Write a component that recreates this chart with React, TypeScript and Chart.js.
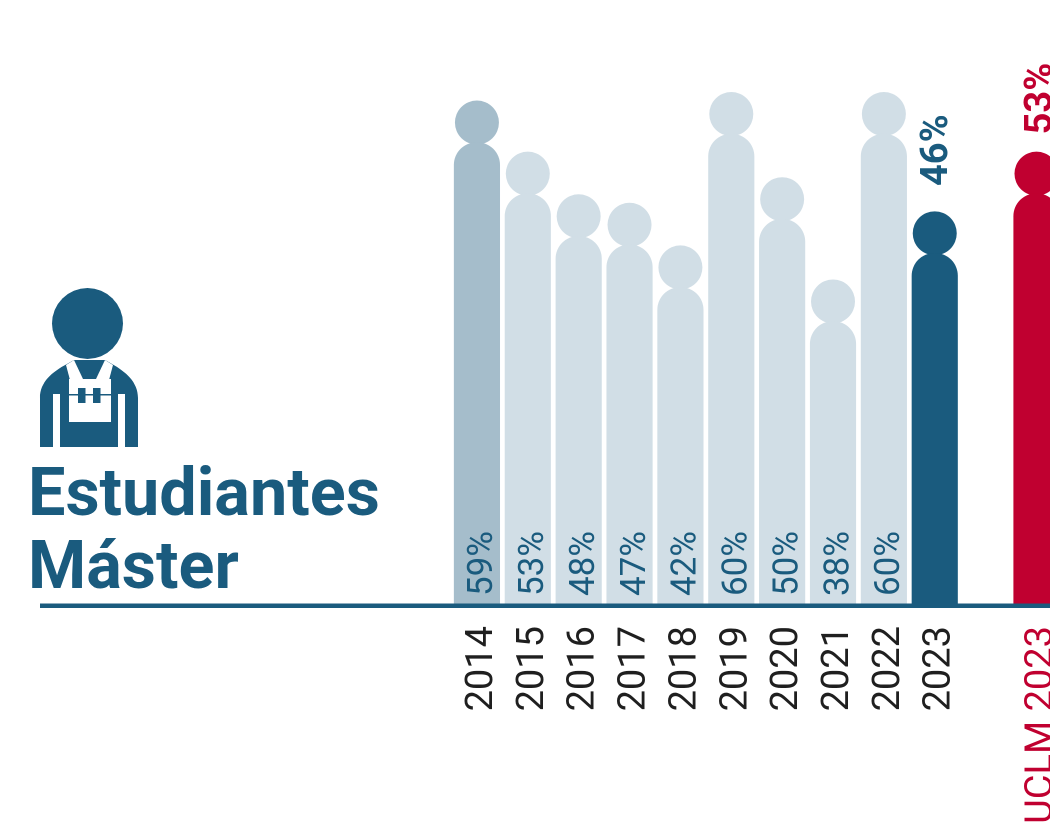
import React, { useEffect, useRef } from "react";
import { Chart, registerables } from "chart.js";

Chart.register(...registerables);

const categories = ["2014", "2015", "2016", "2017", "2018", "2019", "2020", "2021", "2022", "2023", "", "UCLM 2023"];
const percentages: (number | null)[] = [59, 53, 48, 47, 42, 60, 50, 38, 60, 46, null, 53];

const BLUE = "#1a5b7e";
const RED = "#c00030";
const MID = "#a5bdcb";
const PALE = "#d1dee6";
const INK = "#1f1f1f";
const markColors = [MID, PALE, PALE, PALE, PALE, PALE, PALE, PALE, PALE, BLUE, PALE, RED];
const FONT = "Roboto, sans-serif";

// The whole figure (head included) is as tall as its value: the head takes the top units.
const HEAD_UNITS = 4.85;
const bodies = percentages.map((v) => (v === null ? null : v - HEAD_UNITS));
const heads = percentages.map((v) => (v === null ? null : v - 2.5));

const decorations = {
  id: "decorations",
  afterDatasetsDraw(chart: any) {
    const { ctx, scales } = chart;
    const y0 = scales.y.getPixelForValue(0);
    ctx.save();
    ctx.fillStyle = BLUE;
    ctx.fillRect(40, y0 - 0.5, chart.width - 40, 4.5);
    percentages.forEach((v, i) => {
      if (v === null) return;
      const x = scales.x.getPixelForValue(i);
      const strong = i >= 9;
      ctx.save();
      if (strong) {
        ctx.translate(x + (i === 9 ? 3 : 5), scales.y.getPixelForValue(v) - (i === 9 ? 26 : 18));
        ctx.fillStyle = i === 9 ? BLUE : RED;
        ctx.font = `700 38px ${FONT}`;
      } else {
        ctx.translate(x + 6.5, y0 - 8);
        ctx.fillStyle = BLUE;
        ctx.font = `400 35px ${FONT}`;
      }
      ctx.rotate(-Math.PI / 2);
      ctx.textAlign = "left";
      ctx.textBaseline = "middle";
      ctx.fillText(`${v}%`, 0, 0);
      ctx.restore();
    });
    ctx.restore();
  },
};

function Worker() {
  return (
    <svg width={1050} height={828} style={{ position: "absolute", left: 0, top: 0 }}>
      <circle cx={87.5} cy={323.5} r={35.5} fill={BLUE} />
      <path d="M40 447V398C40 382 52 372 67 364L74 360H105L112 364C126 372 138 382 138 398V447Z" fill={BLUE} />
      <polygon points="66,365 74,360 83,379 70,380" fill="#fff" />
      <polygon points="113,365 105,360 96,379 109,380" fill="#fff" />
      <rect x={69} y={379} width={42} height={43} fill="#fff" />
      <rect x={53} y={394} width={7} height={53} fill="#fff" />
      <rect x={118} y={394} width={7} height={53} fill="#fff" />
      <rect x={69} y={394} width={42} height={1.5} fill={BLUE} />
      <rect x={78} y={388} width={7.5} height={15} fill={BLUE} />
      <rect x={93} y={388} width={7.5} height={15} fill={BLUE} />
    </svg>
  );
}

export default function App() {
  const ref = useRef<HTMLCanvasElement>(null);
  useEffect(() => {
    const chart = new Chart(ref.current as HTMLCanvasElement, {
      type: "bar",
      data: {
        labels: categories,
        datasets: [
          {
            type: "bar",
            data: bodies,
            backgroundColor: markColors,
            barThickness: 45.5,
            borderRadius: { topLeft: 23, topRight: 23, bottomLeft: 0, bottomRight: 0 },
            borderSkipped: false,
          },
          {
            type: "line",
            data: heads,
            showLine: false,
            pointRadius: 22,
            pointHoverRadius: 22,
            pointBorderWidth: 0,
            pointBackgroundColor: markColors,
          },
        ],
      } as any,
      options: {
        responsive: false,
        animation: false,
        devicePixelRatio: 2,
        layout: { padding: { left: 451.5, top: 0, right: 0, bottom: 0 } },
        plugins: { legend: { display: false }, tooltip: { enabled: false } },
        scales: {
          y: { display: false, min: 0, max: 68.3 },
          x: {
            grid: { display: false, drawTicks: false },
            border: { display: false },
            afterFit(axis: any) {
              axis.height = 224;
            },
            ticks: {
              autoSkip: false,
              minRotation: 90,
              maxRotation: 90,
              padding: 22,
              labelOffset: 5.5,
              color: (c: any) => (c.index === 11 ? RED : INK),
              font: { family: FONT, size: 38, weight: 400 },
            },
          },
        },
      } as any,
      plugins: [decorations],
    });
    return () => chart.destroy();
  }, []);
  return (
    <div style={{ position: "fixed", left: 0, top: 0, width: 1050, height: 828, overflow: "hidden", background: "#fff" }}>
      <canvas ref={ref} width={1105} height={828} style={{ position: "absolute", left: 0, top: 0 }} />
      <Worker />
      <div
        style={{
          position: "absolute",
          left: 28,
          top: 456,
          color: BLUE,
          fontFamily: FONT,
          fontWeight: 700,
          fontSize: 66.5,
          lineHeight: "73px",
        }}
      >
        Estudiantes
        <br />
        Máster
      </div>
    </div>
  );
}
